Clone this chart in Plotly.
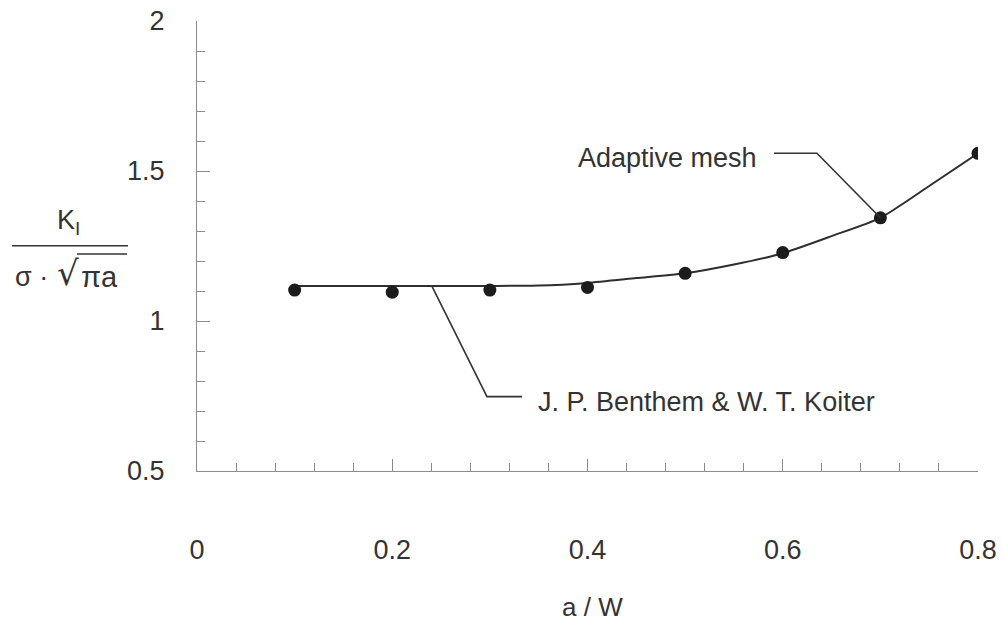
import plotly.graph_objects as go
import numpy as np

# ---- data ----
mesh_x = [0.1, 0.2, 0.3, 0.4, 0.5, 0.6, 0.7, 0.8]
mesh_y = [1.103, 1.096, 1.103, 1.112, 1.159, 1.228, 1.344, 1.559]

bk_x = [0.10, 0.15, 0.20, 0.25, 0.30, 0.35, 0.40, 0.45, 0.50, 0.55, 0.60, 0.65, 0.70, 0.75, 0.80]
bk_y = [1.117, 1.117, 1.117, 1.117, 1.117, 1.118, 1.127, 1.143, 1.159, 1.188, 1.226, 1.283, 1.344, 1.450, 1.559]

x_ticks = [0, 0.2, 0.4, 0.6, 0.8]
x_ticklabels = ["0", "0.2", "0.4", "0.6", "0.8"]
y_ticks = [0.5, 1, 1.5, 2]
y_ticklabels = ["0.5", "1", "1.5", "2"]

x_title = "a / W"
label_mesh = "Adaptive mesh"
label_bk = "J. P. Benthem & W. T. Koiter"

FONT = "Liberation Sans, Arial, sans-serif"
TXT = "#333333"
AX = "#8c8c8c"
FS = 27

# plot-area geometry (pixels) used to place the custom axis titles
L, R, T, B = 197, 978, 21, 471


def px(xp):
    return (xp - L) / (R - L)


def py(yp):
    return (B - yp) / (B - T)


fig = go.Figure()

fig.add_trace(go.Scatter(
    x=bk_x, y=bk_y, mode="lines", line=dict(color="#2e2e2e", width=2, shape="spline", smoothing=0.6),
    name=label_bk, showlegend=False, hoverinfo="skip"))
fig.add_trace(go.Scatter(
    x=mesh_x, y=mesh_y, mode="markers", marker=dict(color="#1c1c1c", size=13),
    name=label_mesh, showlegend=False))

# leader for Adaptive mesh -> point at 0.7
i7 = mesh_x.index(0.7)
fig.add_shape(type="path",
              path=f"M 0.591,{mesh_y[-1]} L 0.635,{mesh_y[-1]} L {mesh_x[i7]},{mesh_y[i7]}",
              xref="x", yref="y", line=dict(color="#333333", width=1.6))
fig.add_annotation(x=0.576, y=1.543, xref="x", yref="y", text=label_mesh, showarrow=False,
                   xanchor="right", yanchor="middle", font=dict(family=FONT, size=FS, color=TXT))

# leader for Benthem & Koiter -> curve
lx = 0.2405
ly = float(np.interp(lx, bk_x, bk_y))
fig.add_shape(type="path",
              path=f"M {lx},{ly} L 0.297,0.748 L 0.333,0.748",
              xref="x", yref="y", line=dict(color="#333333", width=1.6))
fig.add_annotation(x=0.347, y=0.73, xref="x", yref="y", text=label_bk, showarrow=False,
                   xanchor="left", yanchor="middle", font=dict(family=FONT, size=FS, color=TXT))

# x-axis title
fig.add_annotation(x=px(592), y=py(607), xref="paper", yref="paper", text=x_title,
                   showarrow=False, xanchor="center", yanchor="middle",
                   font=dict(family=FONT, size=FS - 1, color=TXT))

# y-axis title drawn as a fraction  K_I / (sigma * sqrt(pi a))
fig.add_annotation(x=px(68), y=py(222), xref="paper", yref="paper", text="K<sub>I</sub>",
                   showarrow=False, xanchor="center", yanchor="middle",
                   font=dict(family=FONT, size=FS, color=TXT))
fig.add_shape(type="line", x0=px(12), x1=px(128), y0=py(245.7), y1=py(245.7),
              xref="paper", yref="paper", line=dict(color="#333333", width=1.6))
fig.add_annotation(x=px(13), y=py(277), xref="paper", yref="paper", text="σ ·",
                   showarrow=False, xanchor="left", yanchor="middle",
                   font=dict(family=FONT, size=FS, color=TXT))
fig.add_annotation(x=px(68), y=py(273), xref="paper", yref="paper", text="√",
                   showarrow=False, xanchor="center", yanchor="middle",
                   font=dict(family="DejaVu Sans, sans-serif", size=34, color=TXT))
fig.add_annotation(x=px(79), y=py(277), xref="paper", yref="paper", text="πa",
                   showarrow=False, xanchor="left", yanchor="middle",
                   font=dict(family=FONT, size=FS + 2, color=TXT))
fig.add_shape(type="line", x0=px(77), x1=px(127), y0=py(254), y1=py(254),
              xref="paper", yref="paper", line=dict(color="#333333", width=1.6))

fig.update_layout(
    width=1002, height=624,
    margin=dict(l=L, r=1002 - R, t=T, b=624 - B, autoexpand=False),
    paper_bgcolor="white", plot_bgcolor="white",
    font=dict(family=FONT, size=FS, color=TXT),
    showlegend=False,
    xaxis=dict(range=[0, 0.8], tickvals=x_ticks, ticktext=x_ticklabels, automargin=False,
               showgrid=False, zeroline=False, showline=True, linecolor=AX, linewidth=1.3,
               ticks="inside", ticklen=12, tickcolor=AX, tickwidth=1.3,
               ticklabelstandoff=54,
               minor=dict(dtick=0.04, tick0=0, ticks="inside", ticklen=8, tickcolor=AX, tickwidth=1.3, showgrid=False)),
    yaxis=dict(range=[0.5, 2], tickvals=y_ticks, ticktext=y_ticklabels, automargin=False,
               showgrid=False, zeroline=False, showline=True, linecolor=AX, linewidth=1.3,
               ticks="inside", ticklen=13, tickcolor=AX, tickwidth=1.3,
               ticklabelstandoff=26,
               minor=dict(dtick=0.1, tick0=0.5, ticks="inside", ticklen=8, tickcolor=AX, tickwidth=1.3, showgrid=False)),
)

fig.write_html("out.html")
